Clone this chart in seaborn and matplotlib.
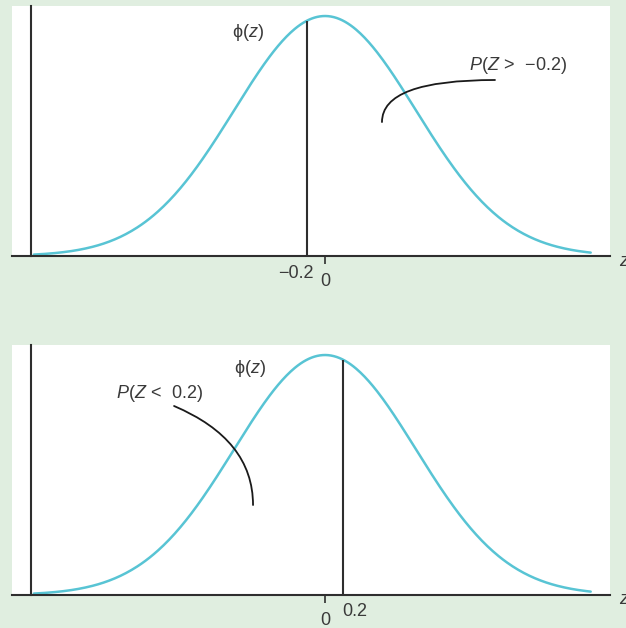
import numpy as np
import pandas as pd
import matplotlib
matplotlib.use("Agg")
import matplotlib.pyplot as plt
import seaborn as sns

# Standard normal density, drawn over this stretch of z
z_start, z_end = -3.2, 2.92
# Cut points marked in the two panels
cut_points = [-0.2, 0.2]
cut_labels = ["\u22120.2", "0.2"]
prob_labels = [r"$P(Z\,>\ \,{-}0.2)$", r"$P(Z\,<\ \,0.2)$"]
phi_label = "$\\mathrm{\u03d5}(z)$"
zero_tick = [0]
zero_tick_label = ["0"]

sns.set_theme(style="white")
plt.rcParams["font.family"] = ["Liberation Sans", "DejaVu Sans"]
plt.rcParams["mathtext.fontset"] = "custom"
plt.rcParams["mathtext.rm"] = "Liberation Sans"
plt.rcParams["mathtext.it"] = "Liberation Sans:italic"
plt.rcParams["mathtext.fallback"] = "stixsans"

BG = "#e0eee0"
CURVE = "#58c4d4"
INK = "#2e2e2e"
TXT = "#3a3a3a"
FS = 13

z = np.linspace(z_start, z_end, 400)
df = pd.DataFrame({"z": z, "phi": np.exp(-z ** 2 / 2) / np.sqrt(2 * np.pi)})


def phi(v):
    return np.exp(-v ** 2 / 2) / np.sqrt(2 * np.pi)


fig = plt.figure(figsize=(6.26, 6.28), dpi=100)
fig.patch.set_facecolor(BG)

W, H = 626, 628
axes_boxes = [
    [12 / W, 1 - 256 / H, 598 / W, 250 / H],
    [12 / W, 1 - 595 / H, 598 / W, 250 / H],
]

# panel-specific placement of the annotations (data units)
phi_label_pos = [(-0.846, 0.372), (-0.824, 0.377)]
prob_label_pos = [(1.582, 0.3175), (-2.297, 0.3358)]
leaders = [
    dict(start=(1.868, 0.2926), end=(0.626, 0.2227), conn="angle3,angleA=0,angleB=90"),
    dict(start=(-1.659, 0.3142), end=(-0.791, 0.1496), conn="angle3,angleA=-23,angleB=90"),
]
cut_label_offsets = [((7, -17), "right"), ((-1, -16.5), "left")]

for i, box in enumerate(axes_boxes):
    ax = fig.add_axes(box)
    ax.set_facecolor("white")
    sns.lineplot(data=df, x="z", y="phi", ax=ax, color=CURVE, linewidth=1.8)

    ax.set_xlim(-3.44, 3.132)
    ax.set_ylim(0, 0.4156)
    ax.set_xlabel("")
    ax.set_ylabel("")

    for side in ("top", "right"):
        ax.spines[side].set_visible(False)
    ax.spines["left"].set_position(("data", -3.23))
    for side in ("left", "bottom"):
        ax.spines[side].set_color(INK)
        ax.spines[side].set_linewidth(1.5)
        ax.spines[side].set_zorder(3)

    ax.set_yticks([])
    ax.set_xticks(zero_tick)
    ax.set_xticklabels(zero_tick_label)
    ax.tick_params(axis="x", bottom=True, length=5.5, width=1.2, color=INK,
                   pad=7, labelsize=FS, labelcolor=TXT)

    c = cut_points[i]
    ax.vlines(c, 0, phi(c), color=INK, linewidth=1.5, zorder=3)
    (dx, dy), ha = cut_label_offsets[i]
    ax.annotate(cut_labels[i], xy=(c, 0), xytext=(dx, dy), textcoords="offset pixels",
                ha=ha, va="center", fontsize=FS, color=TXT, annotation_clip=False)

    ax.text(*phi_label_pos[i], phi_label, ha="center", va="center",
            fontsize=FS, color=TXT)
    ax.text(*prob_label_pos[i], prob_labels[i], ha="left", va="center",
            fontsize=FS, color=TXT)

    ld = leaders[i]
    ax.annotate("", xy=ld["end"], xytext=ld["start"],
                arrowprops=dict(arrowstyle="-", color="#1a1a1a", lw=1.3,
                                connectionstyle=ld["conn"],
                                shrinkA=0, shrinkB=0))

    ax.text(1.015, -0.02, r"$z$", transform=ax.transAxes, ha="left", va="center",
            fontsize=FS, color=TXT, clip_on=False)

fig.savefig("out.png", dpi=100, facecolor=BG)
